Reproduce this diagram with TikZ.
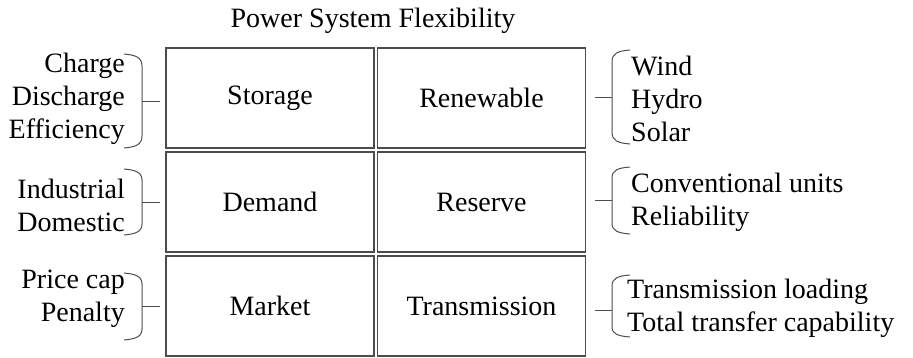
\documentclass[tikz,border=0pt]{standalone}
\usepackage{fontspec}
\setmainfont{Liberation Serif}
\begin{document}
\begin{tikzpicture}[x=1pt,y=-1pt,
  cell/.style={draw=black!70, line width=1.1pt, minimum width=208pt, minimum height=100pt, inner sep=0pt, font=\rmfamily\fontsize{28}{32}\selectfont},
  lab/.style={inner sep=0pt, font=\rmfamily\fontsize{28}{33}\selectfont},
  brace/.style={draw=black!70, line width=1pt}]
\useasboundingbox (0,0) rectangle (913,357);
\node[lab] (title) at (373,21) {Power System Flexibility};
% cells
\node[cell] (storage) at (270,98) {Storage};
\node[cell] (renew) at (481.5,98) {Renewable};
\node[cell] (demand) at (270,202) {Demand};
\node[cell] (reserve) at (481.5,202) {Reserve};
\node[cell] (market) at (270,306) {Market};
\node[cell] (trans) at (481.5,306) {Transmission};
% left labels
\node[lab, anchor=east, align=right] (l1) at (125,99) {Charge\\Discharge\\Efficiency};
\node[lab, anchor=east, align=right] (l2) at (125,205) {Industrial\\Domestic};
\node[lab, anchor=east, align=right] (l3) at (125,299) {Price cap\\Penalty};
% right labels
\node[lab, anchor=west, align=left] (r1) at (631,99) {Wind\\Hydro\\Solar};
\node[lab, anchor=west, align=left] (r2) at (631,202) {Conventional units\\Reliability};
\node[lab, anchor=west, align=left] (r3) at (627,308) {Transmission loading\\Total transfer capability};
% left braces
\coordinate (lt1) at (142,101);
\draw[brace] (124,54) .. controls (135,55) and (142,57) .. (142,66) -- (142,136) .. controls (142,145) and (135,147) .. (124,148);
\draw[brace] (lt1) -- (160,101);
\coordinate (lt2) at (142,202);
\draw[brace] (124,169) .. controls (135,170) and (142,172) .. (142,180) -- (142,224) .. controls (142,232) and (135,234) .. (124,235);
\draw[brace] (lt2) -- (160,202);
\coordinate (lt3) at (142,306);
\draw[brace] (124,273) .. controls (135,274) and (142,276) .. (142,284) -- (142,329) .. controls (142,337) and (135,339) .. (124,340);
\draw[brace] (lt3) -- (160,306);
% right braces
\coordinate (rt1) at (612,97);
\draw[brace] (630,50) .. controls (618,51) and (612,53) .. (612,62) -- (612,132) .. controls (612,141) and (618,143) .. (630,144);
\draw[brace] (595,97) -- (rt1);
\coordinate (rt2) at (612,200);
\draw[brace] (630,167) .. controls (618,168) and (612,170) .. (612,178) -- (612,223) .. controls (612,231) and (618,233) .. (630,234);
\draw[brace] (595,200) -- (rt2);
\coordinate (rt3) at (612,310);
\draw[brace] (630,275) .. controls (618,276) and (612,278) .. (612,286) -- (612,327) .. controls (612,334) and (618,336) .. (630,337);
\draw[brace] (595,310) -- (rt3);
\end{tikzpicture}
\end{document}
